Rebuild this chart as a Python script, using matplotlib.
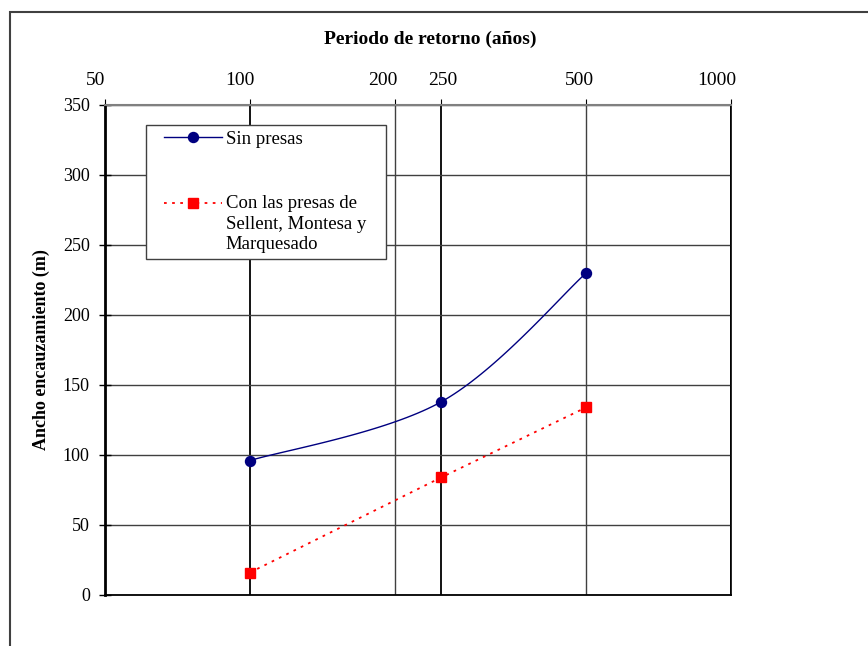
import numpy as np
import matplotlib
matplotlib.use('Agg')
import matplotlib.pyplot as plt
import matplotlib.transforms as mtransforms
from matplotlib.lines import Line2D
from matplotlib.legend_handler import HandlerLine2D

# datos
periodos = [100, 250, 500]
sin_presas = [96, 138, 230]
con_presas = [16, 84, 134]
xticks = [50, 100, 200, 250, 500, 1000]
yticks = [0, 50, 100, 150, 200, 250, 300, 350]
label_sin = 'Sin presas'
label_con = 'Con las presas de\nSellent, Montesa y\nMarquesado'


def smooth(x, y, n=40):
    """Curva suavizada tipo Excel (Catmull-Rom) en espacio log-x."""
    lx = np.log10(np.asarray(x, float))
    y = np.asarray(y, float)
    px = np.concatenate([[lx[0]], lx, [lx[-1]]])
    py = np.concatenate([[y[0]], y, [y[-1]]])
    xs, ys = [], []
    t = np.linspace(0, 1, n)
    for i in range(1, len(px) - 2):
        for p, out in ((px, xs), (py, ys)):
            p0, p1, p2, p3 = p[i - 1], p[i], p[i + 1], p[i + 2]
            out.extend(0.5 * (2 * p1 + (-p0 + p2) * t
                              + (2 * p0 - 5 * p1 + 4 * p2 - p3) * t ** 2
                              + (-p0 + 3 * p1 - 3 * p2 + p3) * t ** 3))
    return 10 ** np.array(xs), np.array(ys)


class ShiftedHandler(HandlerLine2D):
    """Simbolo de leyenda desplazado (dx a la derecha, dy hacia arriba)."""

    def __init__(self, dx=0, dy=0, **kw):
        super().__init__(**kw)
        self.dx, self.dy = dx, dy

    def create_artists(self, legend, orig_handle, xdescent, ydescent,
                       width, height, fontsize, trans):
        return super().create_artists(legend, orig_handle,
                                      xdescent - self.dx, ydescent - 2 * self.dy,
                                      width - self.dx, height, fontsize, trans)


plt.rcParams['font.family'] = ['Liberation Serif', 'DejaVu Serif']
plt.rcParams['font.size'] = 13

fig = plt.figure(figsize=(8.68, 6.46), dpi=100)
ax = fig.add_axes([0.121, 0.079, 0.7212, 0.7585])

# marco exterior del grafico
fig.patches.append(plt.Rectangle((10 / 868, -0.5), 2, 1.5 - 12 / 646,
                                 transform=fig.transFigure, fill=False,
                                 edgecolor='#404040', lw=1.5))

ax.set_xscale('log')
ax.set_xlim(50, 1000)
ax.set_ylim(0, 350)
ax.xaxis.tick_top()
ax.xaxis.set_label_position('top')
ax.set_xticks(xticks)
ax.set_xticklabels([str(v) for v in xticks])
ax.xaxis.set_minor_locator(matplotlib.ticker.NullLocator())
ax.set_yticks(yticks)
ax.tick_params(axis='x', direction='out', length=4, pad=7.5, labelsize=14)
ax.tick_params(axis='y', direction='inout', length=8, width=1, labelsize=13, pad=7)

# las etiquetas superiores del original no estan centradas en su marca
shift_px = {50: -9, 100: -10, 200: -12, 250: 1, 500: -7, 1000: -14}
for lab, v in zip(ax.get_xticklabels(), xticks):
    off = mtransforms.ScaledTranslation(shift_px[v] / 100, 0, fig.dpi_scale_trans)
    lab.set_transform(lab.get_transform() + off)

ax.grid(axis='y', color='#404040', lw=1)
ax.grid(axis='x', color='black', lw=1.3)
for g, v in zip(ax.get_xgridlines(), xticks):
    if v in (200, 500):
        g.set_color('#404040')
        g.set_linewidth(1)
ax.set_axisbelow(True)

for s in ('left', 'bottom'):
    ax.spines[s].set_color('black')
ax.spines['left'].set_linewidth(2)
ax.spines['bottom'].set_linewidth(1.3)
ax.spines['right'].set_linewidth(1.2)
ax.spines['top'].set_color('#808080')
ax.spines['top'].set_linewidth(1.5)

xs, ys = smooth(periodos, sin_presas)
ax.plot(xs, ys, color='#000080', lw=1)
ax.plot(periodos, sin_presas, 'o', color='#000080', ms=7.2)
ax.plot(periodos, con_presas, color='red', lw=1.3, ls=(0, (1.5, 3)),
        marker='s', ms=7.7)

ax.set_xlabel('Periodo de retorno (años)', fontweight='bold', fontsize=14,
              labelpad=20)
ax.xaxis.label.set_x(0.519)
ax.set_ylabel('Ancho encauzamiento (m)', fontweight='bold', fontsize=13,
              labelpad=9)

h_sin = Line2D([], [], color='#000080', lw=1, marker='o', ms=7.2)
h_con = Line2D([], [], color='red', lw=1.3, ls=(0, (1.5, 3)), marker='s', ms=7.7)
leg = ax.legend([h_sin, h_con], [label_sin, label_con], loc='upper left',
                bbox_to_anchor=(0.0655, 0.659, 0.383, 0.3), mode='expand',
                frameon=True, fancybox=False,
                edgecolor='#404040', framealpha=1, fontsize=13.5,
                handlelength=3.75, handletextpad=0.21, labelspacing=2.5,
                borderpad=0.3, borderaxespad=0,
                handler_map={h_sin: ShiftedHandler(dx=9),
                             h_con: ShiftedHandler(dx=9, dy=15)})
leg.get_frame().set_linewidth(1)
for t in leg.get_texts():
    t.set_linespacing(1.3)

fig.savefig('out.png', dpi=100)
